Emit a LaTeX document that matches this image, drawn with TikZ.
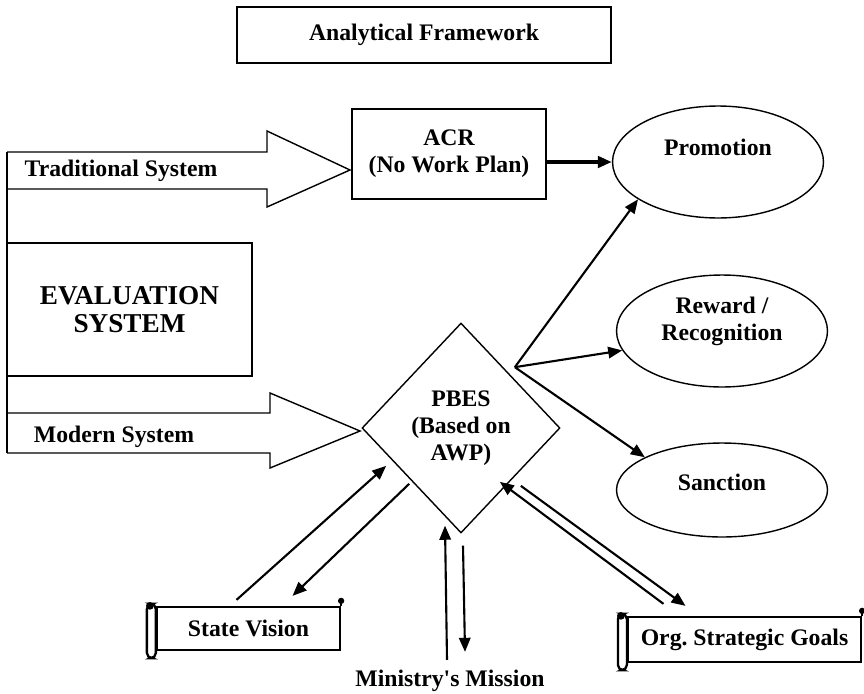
\documentclass[tikz,border=0pt]{standalone}
\usepackage{fontspec}
\setmainfont{Liberation Serif}
\usetikzlibrary{arrows.meta,shapes.geometric}

\tikzset{
  txt/.style={font=\fontsize{13.5}{15.5}\selectfont\bfseries, align=center, inner sep=0pt},
  box/.style={txt, draw, thick, rectangle},
  outcome/.style={draw, thick, ellipse, inner sep=0pt, minimum width=4.22cm},
  scrollbody/.style={txt, draw, line width=1.3pt, rectangle},
  arr/.style={-{Triangle[length=8pt,width=6.5pt]}, line width=1.2pt},
}

\begin{document}
\begin{tikzpicture}[x=0.02cm,y=-0.02cm]
\useasboundingbox (0,0) rectangle (864,693);

% boxes
\node[box, minimum width=7.48cm, minimum height=1.12cm] (frame) at (424,35) {Analytical Framework};
\node[box, minimum width=3.88cm, minimum height=1.8cm] (acr) at (449,154) {ACR\\(No Work Plan)};
\node[box, font=\fontsize{15.5}{15.5}\selectfont\bfseries, minimum width=4.9cm, minimum height=2.66cm] (evalsys) at (129.5,309.5) {EVALUATION\\SYSTEM};
\node[txt, draw, thick, diamond, minimum width=3.96cm, minimum height=4.2cm] (pbes) at (461,428) {PBES\\(Based on\\AWP)};

% outcomes
\node[outcome, minimum height=2.24cm, label={[txt,yshift=0.3cm]center:Promotion}] (promo) at (718,162) {};
\node[outcome, minimum height=2.24cm, label={[txt,yshift=0.2cm]center:Reward /\\Recognition}] (reward) at (722,331) {};
\node[outcome, minimum height=1.88cm, label={[txt,yshift=0.16cm]center:Sanction}] (sanction) at (722,490) {};

% block arrows
\draw[thick] (7,152) -- (267,152) -- (267,131) -- (350,170) -- (267,207) -- (267,189) -- (7,189);
\draw[thick] (7,413) -- (270,413) -- (270,393) -- (360,431) -- (270,468) -- (270,453) -- (7,453);
\draw[thick] (7,152) -- (7,453);
\node[txt] (trad) at (121,171) {Traditional System};
\node[txt] (modern) at (114,437) {Modern System};

% scrolls
\node[scrollbody, minimum width=3.66cm, minimum height=0.86cm] (vision) at (248.5,628.5) {State Vision};
\draw[line width=1.3pt, rounded corners=3pt, fill=white] ([shift={(-9,-2)}]vision.north west) rectangle ([shift={(0,7)}]vision.south west);
\fill ([shift={(-6,0)}]vision.north west) circle[radius=2.2pt];
\draw[line width=1.3pt] (vision.north east) -- ++(0,-5);
\fill ([shift={(0,-5)}]vision.north east) circle[radius=1.8pt];

\node[scrollbody, minimum width=4.66cm, minimum height=0.9cm] (org) at (744.5,639.5) {Org.\ Strategic Goals};
\draw[line width=1.3pt, rounded corners=3pt, fill=white] ([shift={(-9,-2)}]org.north west) rectangle ([shift={(0,7)}]org.south west);
\fill ([shift={(-6,0)}]org.north west) circle[radius=2.2pt];
\draw[line width=1.3pt] (org.north east) -- ++(0,-5);
\fill ([shift={(0,-5)}]org.north east) circle[radius=1.8pt];

\node[txt] (mission) at (450,681) {Ministry\textquotesingle s Mission};

% connectors
\coordinate (hub) at ([shift={(4,-8)}]pbes.north east);
\draw[arr, line width=2pt] (acr.east |- promo.west) -- (promo.west);
\draw[arr] (hub) -- (promo.205);
\draw[arr] (hub) -- (reward.191);
\draw[arr] (hub) -- (sanction.157);

\draw[arr] ([shift={(-12,-6)}]vision.north) -- ([shift={(-25,-15)}]pbes.south west);
\draw[arr] ([shift={(-2,3)}]pbes.south west) -- ([shift={(44,-10)}]vision.north);

\draw[arr] ([shift={(-3,-10)}]mission.north) -- ([shift={(-16,-8)}]pbes.south);
\draw[arr] ([shift={(2,12)}]pbes.south) -- ([shift={(15,-18)}]mission.north);

\draw[arr] ([shift={(-81,-12)}]org.north) -- ([shift={(-11,1)}]pbes.south east);
\draw[arr] ([shift={(10,5)}]pbes.south east) -- ([shift={(-59,-10)}]org.north);
\end{tikzpicture}
\end{document}
